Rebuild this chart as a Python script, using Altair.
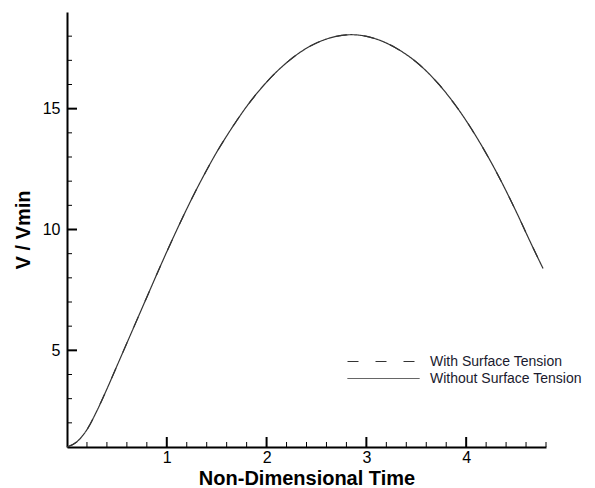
import altair as alt
import pandas as pd

# ---- data ----
time = [0, 0.1, 0.2, 0.3, 0.4, 0.5, 0.6, 0.7, 0.8, 0.9, 1.0, 1.1, 1.2, 1.3, 1.4, 1.5,
        1.6, 1.7, 1.8, 1.9, 2.0, 2.2, 2.4, 2.6, 2.85, 3.1, 3.3, 3.5, 3.7, 3.9, 4.1,
        4.3, 4.5, 4.65, 4.77]
ratio = [1.0, 1.22, 1.72, 2.5, 3.4, 4.35, 5.3, 6.25, 7.2, 8.15, 9.08, 9.98, 10.85,
         11.68, 12.46, 13.2, 13.87, 14.5, 15.09, 15.62, 16.1, 16.9, 17.5, 17.88, 18.06,
         17.88, 17.5, 16.93, 16.13, 15.1, 13.85, 12.4, 10.75, 9.42, 8.39]
series_names = ["With Surface Tension", "Without Surface Tension"]

x_major = [1, 2, 3, 4]
x_minor = [0.2, 0.4, 0.6, 0.8, 1.2, 1.4, 1.6, 1.8, 2.2, 2.4, 2.6, 2.8,
           3.2, 3.4, 3.6, 3.8, 4.2, 4.4, 4.6, 4.8]
y_major = [5, 10, 15]
y_minor = [2, 3, 4, 6, 7, 8, 9, 11, 12, 13, 14, 16, 17, 18]

rows = []
for s in series_names:
    for t, v in zip(time, ratio):
        rows.append({"t": t, "v": v, "s": s})
df = pd.DataFrame(rows)

W, H = 479, 435
xs = alt.Scale(domain=[0, 4.8], nice=False, zero=False)
ys = alt.Scale(domain=[1, 19], nice=False, zero=False)
x_axis = alt.Axis(values=x_major, title="Non-Dimensional Time", format="d",
                  labelPadding=2, titlePadding=3)
y_axis = alt.Axis(values=y_major, title="V / Vmin", format="d",
                  labelPadding=7, titlePadding=9)

line = alt.Chart(df).mark_line(color="#333333", strokeWidth=1.2, interpolate="monotone").encode(
    x=alt.X("t:Q", scale=xs, axis=x_axis),
    y=alt.Y("v:Q", scale=ys, axis=y_axis),
    strokeDash=alt.StrokeDash(
        "s:N",
        scale=alt.Scale(domain=series_names, range=[[11, 17], [1, 0]]),
        legend=alt.Legend(
            title=None, orient="none", legendX=280, legendY=340,
            symbolType="M-1,0L7,0", symbolSize=324, symbolStrokeWidth=1,
            symbolStrokeColor="#333333", symbolFillColor="transparent",
            labelOffset=64, labelFontSize=14, labelFont="Liberation Sans",
            labelColor="#1a1a2e", padding=0, rowPadding=0,
        ),
    ),
)

xmaj = alt.Chart(pd.DataFrame({"t": x_major})).mark_rule(color="black", strokeWidth=2).encode(
    x=alt.X("t:Q", scale=xs, axis=x_axis), y=alt.value(H), y2=alt.value(H - 10))
xmin = alt.Chart(pd.DataFrame({"t": x_minor})).mark_rule(color="black", strokeWidth=1).encode(
    x=alt.X("t:Q", scale=xs, axis=x_axis), y=alt.value(H), y2=alt.value(H - 5))
ymaj = alt.Chart(pd.DataFrame({"v": y_major})).mark_rule(color="black", strokeWidth=2).encode(
    y=alt.Y("v:Q", scale=ys, axis=y_axis), x=alt.value(0), x2=alt.value(10))
ymin = alt.Chart(pd.DataFrame({"v": y_minor})).mark_rule(color="black", strokeWidth=1).encode(
    y=alt.Y("v:Q", scale=ys, axis=y_axis), x=alt.value(0), x2=alt.value(5))

chart = alt.layer(line, xmaj, xmin, ymaj, ymin).properties(
    width=W, height=H,
    autosize=alt.AutoSizeParams(type="none"),
    padding={"left": 67, "top": 12, "right": 49, "bottom": 41},
).configure_view(stroke=None).configure_axis(
    domainColor="black", domainWidth=2, ticks=False, grid=False,
    labelFont="Liberation Sans", labelFontSize=16, labelColor="black",
    titleFont="Liberation Sans", titleFontSize=20, titleFontWeight="bold",
    titleColor="black",
)

chart.save("out.html", embed_options={"renderer": "svg", "actions": False})
